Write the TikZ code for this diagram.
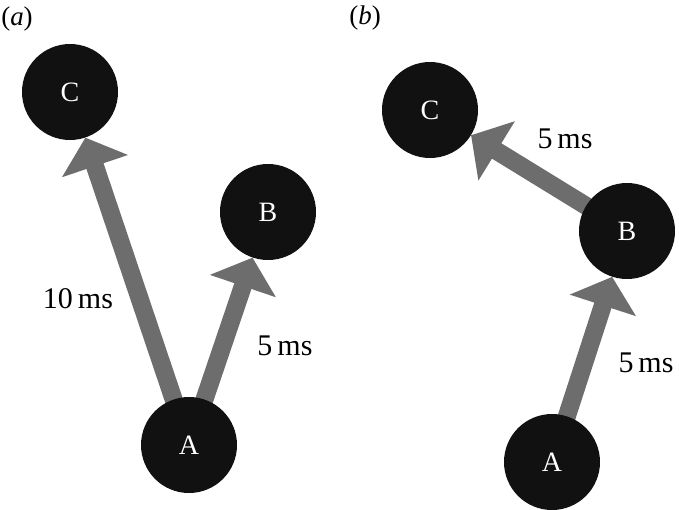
\documentclass[tikz,border=0pt]{standalone}
\usepackage{fontspec}
\setmainfont{Liberation Serif}
\usetikzlibrary{arrows.meta}
\pgfdeclarelayer{bg}
\pgfsetlayers{bg,main}
\definecolor{nodeblack}{HTML}{111111}
\definecolor{arrowgray}{HTML}{6D6D6D}
\begin{document}
\begin{tikzpicture}[x=1pt,y=-1pt,
  vertex/.style={circle,fill=nodeblack,minimum size=96pt,inner sep=0pt,text=white,font=\fontsize{28}{30}\selectfont},
  arr/.style={draw=arrowgray,line width=18pt,-{Triangle[width=68pt,length=30pt]},arrowgray},
  lbl/.style={anchor=base,inner sep=0pt,font=\fontsize{30}{32}\selectfont},
  panel/.style={inner sep=0pt,font=\fontsize{27}{29}\selectfont}]
\useasboundingbox (0,0) rectangle (679,509);
% panel (a)
\node[panel] (pa) at (17,19) {(\textit{a})};
\node[vertex] (aC) at (70,92) {C};
\node[vertex] (aB) at (268,212) {B};
\node[vertex] (aA) at (189,445) {A};
% panel (b)
\node[panel] (pb) at (365,18) {(\textit{b})};
\node[vertex] (bC) at (430,110) {C};
\node[vertex] (bB) at (627,231) {B};
\node[vertex] (bA) at (552,462) {A};
\begin{pgfonlayer}{bg}
\draw[arr] (aA.center) -- (aC);
\draw[arr] (aA.center) -- (aB);
\draw[arr] (bA.center) -- (bB);
\draw[arr] (bB.center) -- (bC);
\end{pgfonlayer}
\node[lbl] (l1) at (78,308) {10\,ms};
\node[lbl] (l2) at (285,355) {5\,ms};
\node[lbl] (l3) at (565,148) {5\,ms};
\node[lbl] (l4) at (646,372) {5\,ms};
\end{tikzpicture}
\end{document}
